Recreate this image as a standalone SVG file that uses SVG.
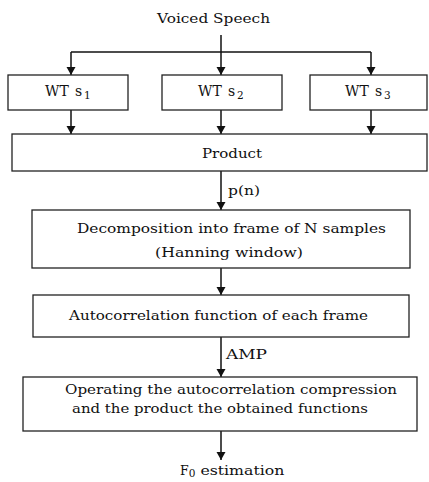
<svg xmlns="http://www.w3.org/2000/svg" width="429" height="482" viewBox="0 0 429 482">
<style>
  .box { fill: #fff; stroke: #222; stroke-width: 1.3; }
  .t { font-family: "DejaVu Serif", "Liberation Serif", serif; font-size: 12.5px; fill: #111; }
  .big { font-size: 14px; }
  .sub { font-size: 10.5px; }
  .ln { stroke: #111; stroke-width: 1.5; fill: none; }
  .arr { stroke: #111; stroke-width: 1.5; fill: none; marker-end: url(#ah); }
</style>
<defs>
  <marker id="ah" markerUnits="userSpaceOnUse" markerWidth="10" markerHeight="10" refX="8" refY="0" viewBox="0 -5 9 10" orient="auto">
    <path d="M0,-4.5 L8,0 L0,4.5 z" fill="#111"/>
  </marker>
</defs>
<rect width="429" height="482" fill="#fff"/>
<g id="connectors">
  <line class="ln" x1="221" y1="35" x2="221" y2="52"/>
  <line class="ln" x1="71" y1="52" x2="371" y2="52"/>
  <line class="arr" x1="71" y1="52" x2="71" y2="75"/>
  <line class="arr" x1="221" y1="52" x2="221" y2="75"/>
  <line class="arr" x1="371" y1="52" x2="371" y2="75"/>
  <line class="arr" x1="71" y1="110" x2="71" y2="134"/>
  <line class="arr" x1="221" y1="110" x2="221" y2="134"/>
  <line class="arr" x1="371" y1="110" x2="371" y2="134"/>
  <line class="arr" x1="221" y1="171" x2="221" y2="210"/>
  <line class="arr" x1="221" y1="268" x2="221" y2="295"/>
  <line class="arr" x1="221" y1="337" x2="221" y2="377"/>
  <line class="arr" x1="221" y1="431" x2="221" y2="460"/>
  <text class="t" x="228" y="195" textLength="32" lengthAdjust="spacingAndGlyphs">p(n)</text>
  <text class="t" x="226" y="359" textLength="41" lengthAdjust="spacingAndGlyphs">AMP</text>
</g>
<g id="voiced-speech">
  <text class="t" x="157" y="23" textLength="113" lengthAdjust="spacingAndGlyphs">Voiced Speech</text>
</g>
<g id="wt-s1">
  <rect class="box" x="8" y="75" width="120" height="35"/>
  <text class="t big" y="96"><tspan x="45">WT</tspan><tspan x="75">s</tspan><tspan class="sub" x="84" dy="3">1</tspan></text>
</g>
<g id="wt-s2">
  <rect class="box" x="162" y="75" width="120" height="35"/>
  <text class="t big" y="96"><tspan x="198">WT</tspan><tspan x="228">s</tspan><tspan class="sub" x="237" dy="3">2</tspan></text>
</g>
<g id="wt-s3">
  <rect class="box" x="310" y="75" width="117" height="35"/>
  <text class="t big" y="96"><tspan x="345">WT</tspan><tspan x="375">s</tspan><tspan class="sub" x="384" dy="3">3</tspan></text>
</g>
<g id="product">
  <rect class="box" x="12" y="134" width="415" height="37"/>
  <text class="t" x="202" y="158" textLength="60" lengthAdjust="spacingAndGlyphs">Product</text>
</g>
<g id="decomposition">
  <rect class="box" x="32" y="210" width="378" height="58"/>
  <text class="t" x="77" y="233" textLength="309" lengthAdjust="spacingAndGlyphs">Decomposition into frame of N  samples</text>
  <text class="t" x="155" y="257" textLength="148" lengthAdjust="spacingAndGlyphs">(Hanning window)</text>
</g>
<g id="autocorrelation">
  <rect class="box" x="33" y="295" width="376" height="42"/>
  <text class="t" x="69" y="320" textLength="299" lengthAdjust="spacingAndGlyphs">Autocorrelation function of each frame</text>
</g>
<g id="operating">
  <rect class="box" x="23" y="377" width="394" height="54"/>
  <text class="t" x="65" y="394" textLength="332" lengthAdjust="spacingAndGlyphs">Operating the autocorrelation compression</text>
  <text class="t" x="72" y="413" textLength="296" lengthAdjust="spacingAndGlyphs">and the product the obtained functions</text>
</g>
<g id="f0-estimation">
  <text class="t" x="180" y="475">F<tspan class="sub" dy="2">0</tspan><tspan dy="-2" textLength="89" lengthAdjust="spacingAndGlyphs"> estimation</tspan></text>
</g>
</svg>
